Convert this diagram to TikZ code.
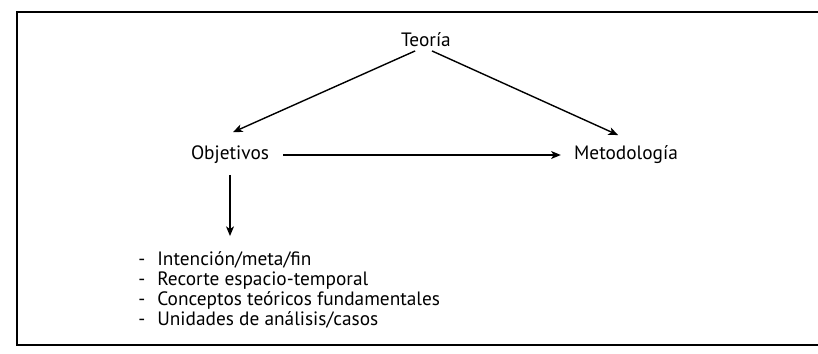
\documentclass[tikz,border=0pt]{standalone}
\usepackage{fontspec}
\setmainfont{PT Sans}
\usepackage{tikz}
\usetikzlibrary{arrows,arrows.meta,positioning,calc}

\newcommand{\guion}{\makebox[10.8pt][l]{-}}

\begin{document}
\begin{tikzpicture}[x=0.02cm,y=-0.02cm,
  concepto/.style={font=\fontsize{11}{12}\selectfont, inner sep=2pt},
  flecha/.style={-{Stealth[length=5.5pt,width=4.5pt,inset=1.5pt]}, line width=0.8pt, black}]
\useasboundingbox (0,0) rectangle (818,354);
% marco
\draw[line width=1.1pt] (818,12) -- (17,12) -- (17,345) -- (818,345);
\node[concepto] (teoria) at (426,40) {Teoría};
\node[concepto] (objetivos) at (230,155) {Objetivos};
\node[concepto] (metodologia) at (626,155) {Metodología};
\node[anchor=north west, align=left, inner sep=0pt, font=\fontsize{11}{11.5}\selectfont] (lista) at (138,251)
  {\guion Intención/meta/fin\\
   \guion Recorte espacio-temporal\\
   \guion Conceptos teóricos fundamentales\\
   \guion Unidades de análisis/casos};
% flechas
\draw[flecha] ([xshift=-6.2pt]teoria.south) -- ([xshift=1.7pt,yshift=5.7pt]objetivos.north);
\draw[flecha] ([xshift=3.4pt]teoria.south) -- ([xshift=-4.5pt,yshift=4pt]metodologia.north);
\draw[flecha, shorten <=6pt, shorten >=5.4pt] (objetivos.east) -- (metodologia.west);
\draw[flecha, shorten <=4pt, shorten >=8.5pt] (objetivos.south) -- (objetivos.south |- lista.north);
\end{tikzpicture}
\end{document}
